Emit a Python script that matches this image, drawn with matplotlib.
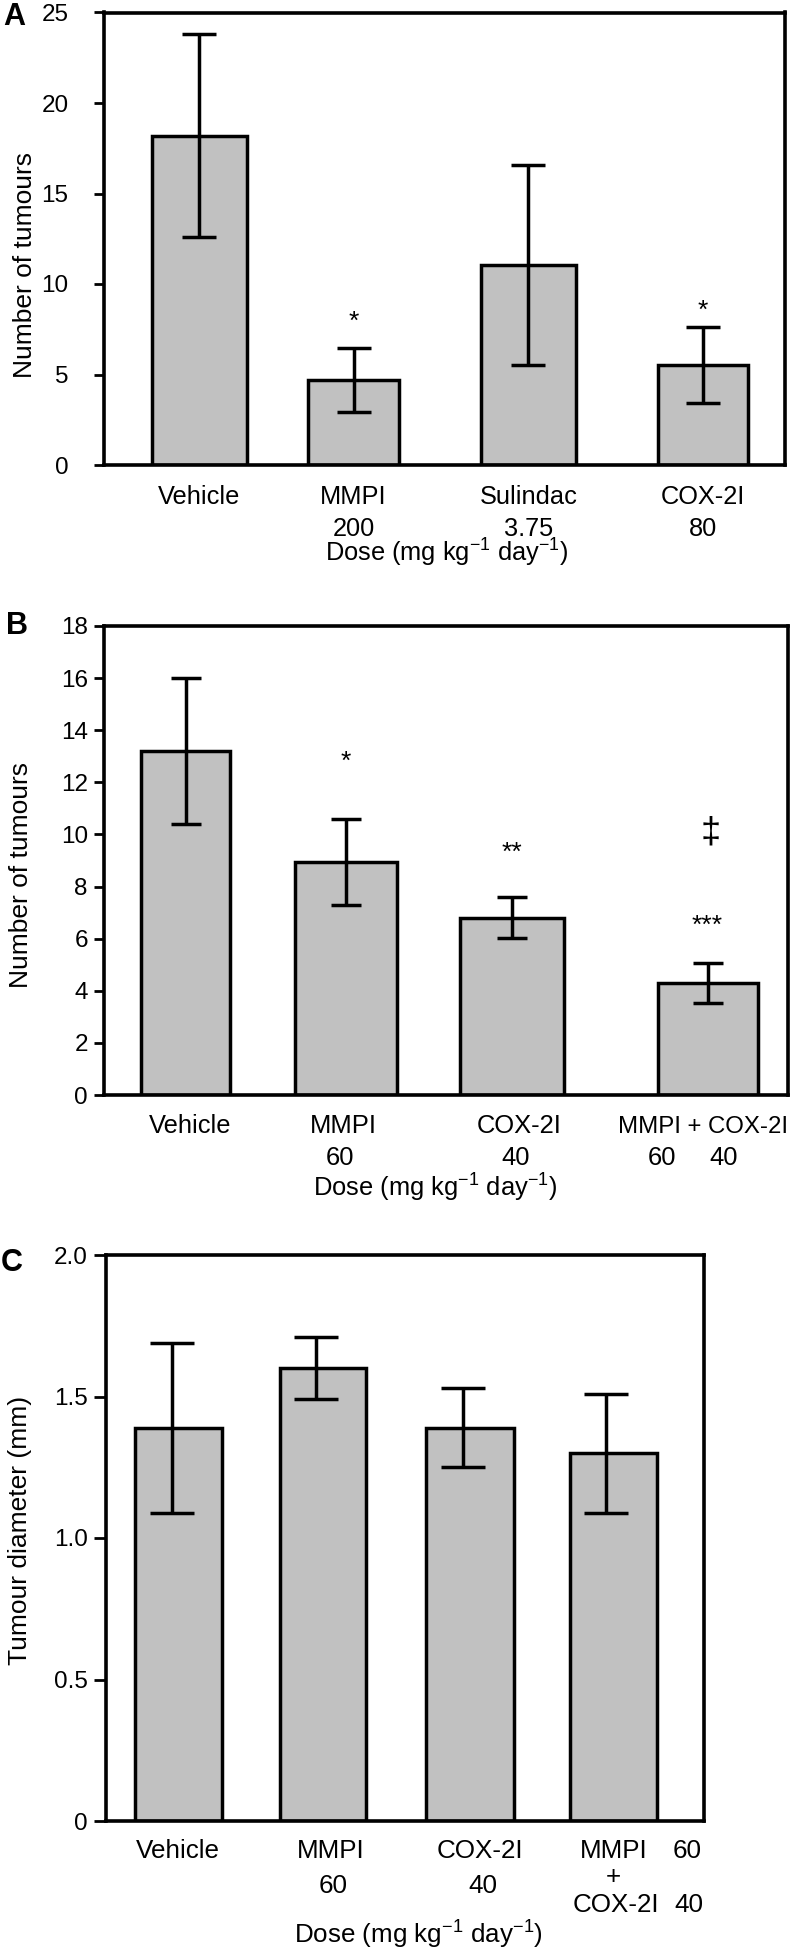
import numpy as np
import matplotlib
matplotlib.use("Agg")
import matplotlib.pyplot as plt

plt.rcParams['font.family'] = ['Liberation Sans', 'DejaVu Sans']
plt.rcParams['mathtext.fontset'] = 'custom'
plt.rcParams['mathtext.rm'] = 'Liberation Sans'
plt.rcParams['mathtext.it'] = 'Liberation Sans:italic'

# ---- data ----
# panel A
a_names = ['Vehicle', 'MMPI', 'Sulindac', 'COX-2I']
a_doses = ['', '200', '3.75', '80']
a_mean = [18.2, 4.7, 11.05, 5.55]
a_err = [5.6, 1.75, 5.5, 2.1]
a_marks = ['', '*', '', '*']
a_mark_y = [0, 8.3, 0, 8.9]

# panel B
b_names = ['Vehicle', 'MMPI', 'COX-2I', 'MMPI + COX-2I']
b_doses = ['', '60', '40', '']
b_mean = [13.2, 8.95, 6.8, 4.3]
b_err = [2.8, 1.65, 0.78, 0.77]
b_marks = ['', '*', '**', '***']
b_mark_y = [0, 13.07, 9.55, 6.76]
b_dagger_y = 10.05

# panel C
c_names = ['Vehicle', 'MMPI', 'COX-2I', 'MMPI\n+\nCOX-2I']
c_doses = ['', '60', '40', '']
c_mean = [1.39, 1.60, 1.39, 1.30]
c_err = [0.30, 0.11, 0.14, 0.21]

xlab = 'Dose (mg kg$^{-1}$ day$^{-1}$)'

# ---- layout (pixels) ----
W, H = 791, 1952
fig = plt.figure(figsize=(W / 100, H / 100), dpi=100)


def px_axes(left, right, top, bottom):
    return fig.add_axes([left / W, 1 - bottom / H, (right - left) / W, (bottom - top) / H])


def ftext(x, y, s, **kw):
    fig.text(x / W, 1 - y / H, s, **kw)


def below(ax, x, s, dy, size, **kw):
    # text with baseline dy pixels below the x axis
    ax.annotate(s, xy=(x, 0), xycoords=('data', 'axes fraction'),
                xytext=(0, -dy), textcoords='offset pixels',
                ha='center', va='baseline', fontsize=size, **kw)


def style(ax, ticks, ymax, tlen, tsize, tpad):
    ax.set_xlim(0, 1)
    ax.set_ylim(0, ymax)
    ax.set_yticks(ticks)
    ax.set_xticks([])
    for s in ax.spines.values():
        s.set_linewidth(2.6)
    ax.tick_params(axis='y', direction='out', length=tlen, width=2.0,
                   labelsize=tsize, pad=tpad)


LW = 2.5
GREY = '#c1c1c1'

# ---- panel A ----
axA = px_axes(104.5, 785, 12.5, 465)
a_pos = [0.1396, 0.366, 0.623, 0.879]
a_w = [0.141, 0.134, 0.140, 0.132]
axA.bar(a_pos, a_mean, width=a_w, color=GREY, edgecolor='black', linewidth=LW, zorder=2)
axA.errorbar(a_pos, a_mean, yerr=a_err, fmt='none', ecolor='black',
             elinewidth=LW, capsize=12.5, capthick=LW, zorder=3)
style(axA, [0, 5, 10, 15, 20, 25], 25, 7, 17.5, 19)
for x, m, y in zip(a_pos, a_marks, a_mark_y):
    if m:
        axA.annotate(m, xy=(x, y), xytext=(0, -14), textcoords='offset pixels',
                     ha='center', va='baseline', fontsize=19)
for x, n, d in zip(a_pos, a_names, a_doses):
    below(axA, x, n, 39, 18.3)
    if d:
        below(axA, x, d, 71, 18.3)
axA.annotate(xlab, xy=(0.502, 0), xycoords='axes fraction', xytext=(0, -97),
             textcoords='offset pixels', ha='center', va='baseline', fontsize=18.3)
ftext(25, 265, 'Number of tumours', rotation=90, ha='center', va='center', fontsize=19)
ftext(3, 25, 'A', fontsize=22, fontweight='bold', ha='left', va='baseline')

# ---- panel B ----
axB = px_axes(104.5, 788, 626, 1095)
b_pos = [0.1187, 0.3533, 0.5962, 0.8824]
b_w = [0.130, 0.150, 0.152, 0.146]
b_lab_x = [0.125, 0.349, 0.606, 0.875]
axB.bar(b_pos, b_mean, width=b_w, color=GREY, edgecolor='black', linewidth=LW, zorder=2)
axB.errorbar(b_pos, b_mean, yerr=b_err, fmt='none', ecolor='black',
             elinewidth=LW, capsize=10.8, capthick=LW, zorder=3)
style(axB, np.arange(0, 19, 2), 18, 7, 17.5, 5)
for x, m, y in zip(b_pos, b_marks, b_mark_y):
    if m:
        axB.annotate(m, xy=(x, y), xytext=(0, -14), textcoords='offset pixels',
                     ha='center', va='baseline', fontsize=19)
axB.text(0.887, b_dagger_y, '\u2021', ha='center', va='center', fontsize=26)
for x, n, d in zip(b_lab_x[:3], b_names[:3], b_doses[:3]):
    below(axB, x, n, 38, 18.4)
    if d:
        below(axB, x - 0.004, d, 70, 18.4)
below(axB, b_lab_x[3], b_names[3], 38, 17.3)
below(axB, 0.816, '60', 70, 18.4)
below(axB, 0.906, '40', 70, 18.4)
axB.annotate(xlab, xy=(0.484, 0), xycoords='axes fraction', xytext=(0, -102),
             textcoords='offset pixels', ha='center', va='baseline', fontsize=18.4)
ftext(21, 875, 'Number of tumours', rotation=90, ha='center', va='center', fontsize=19)
ftext(6, 634, 'B', fontsize=22, fontweight='bold', ha='left', va='baseline')

# ---- panel C ----
axC = px_axes(106, 703.5, 1255, 1821)
c_pos = [0.1218, 0.3635, 0.609, 0.8495]
c_w = [0.146, 0.144, 0.147, 0.147]
c_lab_x = [0.120, 0.3766, 0.626, 0.8495]
axC.bar(c_pos, c_mean, width=c_w, color=GREY, edgecolor='black', linewidth=LW, zorder=2)
axC.errorbar(np.array(c_pos) - 0.012, c_mean, yerr=c_err, fmt='none', ecolor='black',
             elinewidth=LW, capsize=16, capthick=LW, zorder=3)
style(axC, [0, 0.5, 1.0, 1.5, 2.0], 2.0, 9, 17.5, 4)
axC.set_yticklabels(['0', '0.5', '1.0', '1.5', '2.0'])
for x, n, d in zip(c_lab_x[:3], c_names[:3], c_doses[:3]):
    below(axC, x, n, 37, 18.7)
    if d:
        below(axC, x + 0.004, d, 72, 18.7)
combo = c_names[3].split('\n')
below(axC, 0.8495, combo[0], 37, 18.7)
below(axC, 0.8495, combo[1], 63, 18.7)
below(axC, 0.853, combo[2], 91, 18.7)
below(axC, 0.973, '60', 37, 18.7)
below(axC, 0.975, '40', 91, 18.7)
axC.annotate(xlab, xy=(0.523, 0), xycoords='axes fraction', xytext=(0, -123),
             textcoords='offset pixels', ha='center', va='baseline', fontsize=18.7)
ftext(20, 1530, 'Tumour diameter (mm)', rotation=90, ha='center', va='center', fontsize=19)
ftext(1, 1271, 'C', fontsize=22, fontweight='bold', ha='left', va='baseline')

fig.savefig('out.png', dpi=100)
